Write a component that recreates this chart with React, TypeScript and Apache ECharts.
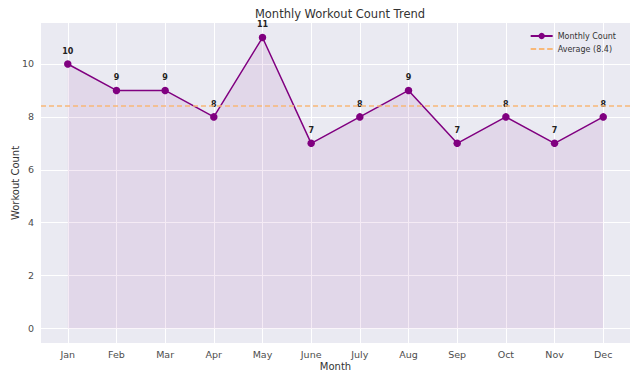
import React, { useEffect, useRef } from "react";
import * as echarts from "echarts";

const months = ["Jan", "Feb", "Mar", "Apr", "May", "June", "July", "Aug", "Sep", "Oct", "Nov", "Dec"];
const counts = [10, 9, 9, 8, 11, 7, 8, 9, 7, 8, 7, 8];
const yTicks = [0, 2, 4, 6, 8, 10];

const average = counts.reduce((a, b) => a + b, 0) / counts.length;
const FONT = "DejaVu Sans";

export default function App() {
  const ref = useRef<HTMLDivElement>(null);
  useEffect(() => {
    if (!ref.current) return;
    const chart = echarts.init(ref.current, undefined, { renderer: "svg" });
    const xIdx = months.map((_, i) => i);
    chart.setOption({
      animation: false,
      backgroundColor: "#ffffff",
      textStyle: { fontFamily: FONT },
      title: {
        text: "Monthly Workout Count Trend",
        left: 335,
        textAlign: "center",
        top: 3,
        textStyle: { fontFamily: FONT, fontSize: 11.5, fontWeight: "normal", color: "#333" },
      },
      legend: {
        right: 18,
        top: 27,
        orient: "vertical",
        itemGap: 5,
        itemWidth: 22,
        itemHeight: 8,
        textStyle: { fontFamily: FONT, fontSize: 8, color: "#333" },
        data: [
          { name: "Monthly Count" },
          { name: `Average (${average.toFixed(1)})`, icon: "path://M0,0 L6,0 L6,2 L0,2 Z M9,0 L15,0 L15,2 L9,2 Z M18,0 L24,0 L24,2 L18,2 Z", itemStyle: { color: "#f8b878" } },
        ],
      },
      grid: {
        left: 41,
        right: 9,
        top: 23,
        bottom: 39,
        show: true,
        backgroundColor: "#eaeaf2",
        borderWidth: 0,
        containLabel: false,
        outerBoundsMode: "none",
      },
      xAxis: {
        type: "value",
        min: -0.55,
        max: 11.55,
        name: "Month",
        nameLocation: "middle",
        nameGap: 18,
        nameMoveOverlap: false,
        nameTextStyle: { fontFamily: FONT, fontSize: 10, color: "#333" },
        axisLine: { show: false },
        axisTick: { show: false, customValues: xIdx },
        axisLabel: {
          customValues: xIdx,
          formatter: (v: number) => months[Math.round(v)] ?? "",
          fontFamily: FONT,
          fontSize: 9.5,
          color: "#4d4d4d",
          margin: 6,
        },
        splitLine: { show: true, lineStyle: { color: "#ffffff", width: 1 } },
      },
      yAxis: {
        type: "value",
        min: -0.55,
        max: 11.55,
        name: "Workout Count",
        nameLocation: "middle",
        nameGap: 21,
        nameRotate: 90,
        nameMoveOverlap: false,
        nameTextStyle: { fontFamily: FONT, fontSize: 10, color: "#333" },
        axisLine: { show: false },
        axisTick: { show: false, customValues: yTicks },
        axisLabel: {
          customValues: yTicks,
          fontFamily: FONT,
          fontSize: 9.5,
          color: "#4d4d4d",
          margin: 7,
        },
        splitLine: { show: true, lineStyle: { color: "#ffffff", width: 1 } },
      },
      series: [
        {
          name: "Monthly Count",
          type: "line",
          data: counts.map((c, i) => [i, c]),
          symbol: "circle",
          symbolSize: 7.5,
          color: "#800080",
          lineStyle: { color: "#800080", width: 1.5 },
          itemStyle: { color: "#800080" },
          areaStyle: { color: "rgba(128,0,128,0.11)", origin: 0 },
          label: {
            show: true,
            position: "top",
            distance: 5,
            fontFamily: FONT,
            fontSize: 8,
            fontWeight: "bold",
            color: "#222",
          },
          z: 3,
        },
        {
          name: `Average (${average.toFixed(1)})`,
          type: "line",
          data: [],
          symbol: "none",
          color: "#f8b878",
          lineStyle: { color: "#f8b878", type: "dashed", width: 1.5 },
          markLine: {
            silent: true,
            symbol: "none",
            label: { show: false },
            lineStyle: { color: "#f8b878", type: [5, 3], width: 1.5 },
            data: [{ yAxis: average }],
          },
          z: 2,
        },
      ],
    });
    return () => chart.dispose();
  }, []);
  return <div ref={ref} style={{ width: 639, height: 382, margin: -8 }} />;
}
